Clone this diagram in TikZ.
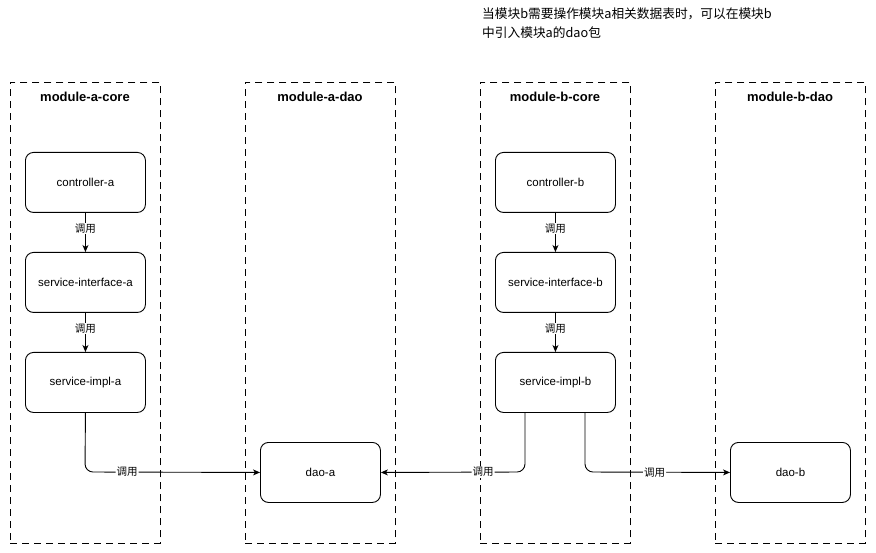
\documentclass[tikz,border=0pt]{standalone}
\usepackage{fontspec}
\setmainfont{Liberation Sans}
\newfontfamily\cjk{Noto Sans CJK SC}
\usetikzlibrary{arrows.meta}
\begin{document}
\begin{tikzpicture}[x=1pt,y=-1pt,
  container/.style={draw, dash pattern=on 7pt off 5pt, line width=0.9pt, minimum width=150pt, minimum height=461pt, anchor=north west, inner sep=0pt},
  title/.style={font=\fontsize{13}{15}\selectfont\bfseries},
  box/.style={draw, rounded corners=8pt, line width=0.9pt, minimum width=120pt, minimum height=60pt, font=\fontsize{11.5}{13}\selectfont, anchor=north west, inner sep=0pt},
  conn/.style={line width=0.9pt, -{Stealth[length=7pt,width=6pt,inset=2pt]}},
  lbl/.style={fill=white, inner sep=1pt, font=\cjk\fontsize{10.5}{12}\selectfont}
]
\useasboundingbox (0,0) rectangle (876,553);
% containers
\node[container] (ca) at (10,82) {};
\node[container] (da) at (245,82) {};
\node[container] (cb) at (480,82) {};
\node[container] (db) at (715,82) {};
\node[title] (tca) at (85,97) {module-a-core};
\node[title] (tda) at (320,97) {module-a-dao};
\node[title] (tcb) at (555,97) {module-b-core};
\node[title] (tdb) at (790,97) {module-b-dao};
% note
\node[anchor=north west, align=left, inner sep=0pt, font=\cjk\fontsize{12.7}{19}\selectfont] (note) at (482,8) {当模块b需要操作模块a相关数据表时，可以在模块b\\中引入模块a的dao包};
% boxes
\node[box] (cta) at (25,152) {controller-a};
\node[box] (sia) at (25,252) {service-interface-a};
\node[box] (ima) at (25,352) {service-impl-a};
\node[box] (dao) at (260,442) {dao-a};
\node[box] (ctb) at (495,152) {controller-b};
\node[box] (sib) at (495,252) {service-interface-b};
\node[box] (imb) at (495,352) {service-impl-b};
\node[box] (daob) at (730,442) {dao-b};
% edges
\draw[conn] (cta.south) -- node[lbl, pos=0.4] {调用} (sia.north);
\draw[conn] (sia.south) -- node[lbl, pos=0.4] {调用} (ima.north);
\draw[conn] (ctb.south) -- node[lbl, pos=0.4] {调用} (sib.north);
\draw[conn] (sib.south) -- node[lbl, pos=0.4] {调用} (imb.north);
\coordinate (a1) at (85,472);
\draw[conn, rounded corners=8pt] (ima.south) -- (a1) -- node[lbl, pos=0.24] {调用} (dao.west);
\coordinate (b1) at (525,412);
\coordinate (b2) at (525,472);
\draw[conn, rounded corners=8pt] (b1) -- (b2) -- node[lbl, pos=0.29] {调用} (dao.east);
\coordinate (c1) at (585,412);
\coordinate (c2) at (585,472);
\draw[conn, rounded corners=8pt] (c1) -- (c2) -- node[lbl, pos=0.48] {调用} (daob.west);
\end{tikzpicture}
\end{document}
